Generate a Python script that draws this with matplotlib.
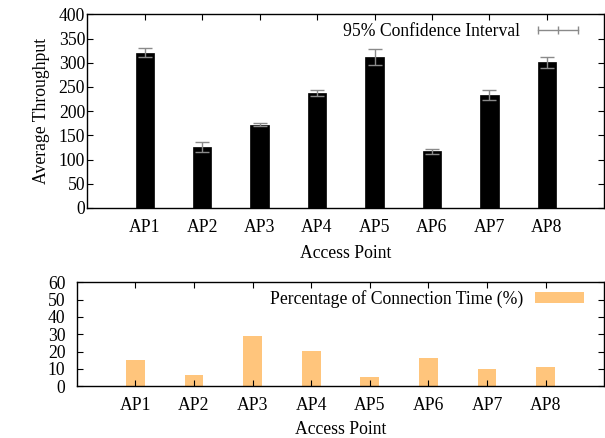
import matplotlib
matplotlib.use("Agg")
import matplotlib.pyplot as plt
from matplotlib.lines import Line2D
from matplotlib.patches import Patch

plt.rcParams["font.family"] = ["Liberation Serif", "DejaVu Serif"]
plt.rcParams["font.size"] = 12.7

aps = ["AP1", "AP2", "AP3", "AP4", "AP5", "AP6", "AP7", "AP8"]
throughput = [321, 126, 172, 237, 312, 117, 233, 301]
ci = [9, 11, 3, 6, 16, 5, 11, 11]
conn_pct = [15.1, 6.5, 29.1, 20.2, 5.2, 16.1, 9.7, 11.1]

ORANGE = "#ffc57c"
GREY = "#8a8a8a"
W, H = 605, 438

fig = plt.figure(figsize=(W / 100, H / 100), dpi=100)


def box(l, t, r, b):
    return [l / W, 1 - b / H, (r - l) / W, (b - t) / H]


def style(ax, ypad, xlabelpad):
    ax.set_xlim(0, 9)
    ax.set_xticks(range(1, 9))
    ax.set_xticklabels(aps)
    ax.tick_params(axis="x", direction="in", top=True, bottom=True, length=4,
                   pad=8, width=0.8)
    ax.tick_params(axis="y", direction="in", left=True, right=True, length=4,
                   pad=ypad, width=0.8)
    for s in ax.spines.values():
        s.set_linewidth(1.0)
    ax.set_xlabel("Access Point", labelpad=xlabelpad)


x = list(range(1, 9))

# throughput with confidence intervals
ax1 = fig.add_axes(box(87.3, 14.3, 604.3, 208))
ax1.bar(x, throughput, width=0.32, color="black", edgecolor="black", linewidth=0.5)
ax1.errorbar(x, throughput, yerr=ci, fmt="none", ecolor=GREY, elinewidth=1,
             capsize=4.8, capthick=1)
ax1.set_ylim(0, 400)
ax1.set_yticks(range(0, 401, 50))
style(ax1, 1.5, 6.5)
ax1.set_ylabel("Average Throughput", labelpad=6)
ci_handle = Line2D([], [], color=GREY, lw=1, marker="|", markersize=6,
                   markeredgewidth=1)
ax1.legend([ci_handle], ["95% Confidence Interval"], loc="upper right",
           bbox_to_anchor=(0.9588, 0.954), frameon=False, markerfirst=False,
           numpoints=3, handlelength=2.85, handletextpad=0.72,
           borderaxespad=0, borderpad=0)

# share of connection time
ax2 = fig.add_axes(box(76.7, 282.3, 604.3, 386.3))
ax2.bar(x, conn_pct, width=0.32, color=ORANGE, edgecolor="none")
ax2.set_ylim(0, 60)
ax2.set_yticks(range(0, 61, 10))
style(ax2, 8, 4.5)
ax2.legend([Patch(facecolor=ORANGE, edgecolor="none")],
           ["Percentage of Connection Time (%)"], loc="upper right",
           bbox_to_anchor=(0.9615, 0.927), frameon=False, markerfirst=False,
           handlelength=2.75, handleheight=0.55, handletextpad=0.72,
           borderaxespad=0, borderpad=0)

fig.savefig("out.png", dpi=100)
